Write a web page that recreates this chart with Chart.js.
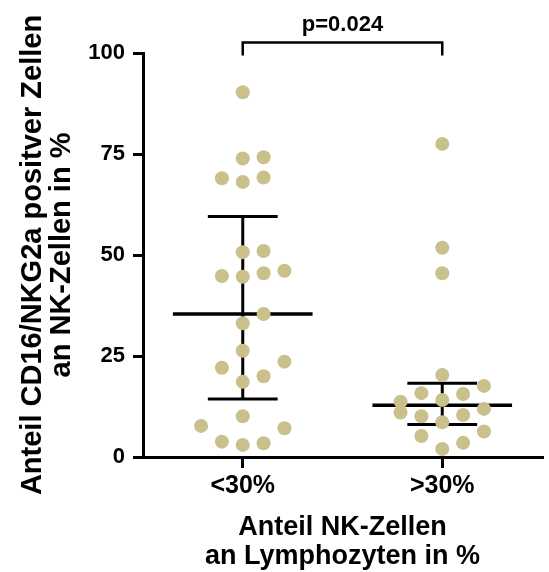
<!DOCTYPE html>
<html>
<head>
<meta charset="utf-8">
<script src="https://cdn.jsdelivr.net/npm/chart.js@4.4.0/dist/chart.umd.min.js"></script>
<style>
  html, body { margin: 0; padding: 0; background: #fff; }
  #wrap { width: 549px; height: 572px; }
</style>
</head>
<body>
<div id="wrap"><canvas id="myChart" width="549" height="572"></canvas></div>
<script>
const categories = ['<30%', '>30%']

// one value per patient, % CD16/NKG2a positive NK cells
const lowGroup = [90.3, 73.9, 68.1, 50.7, 44.6, 33.1, 26.3, 18.6, 10.1, 3.0,
    74.2, 69.2, 51.0, 45.5, 35.4, 20.0, 3.4, 69.0, 44.8, 22.1, 3.8, 23.6, 46.1, 7.1, 7.7]
const highGroup = [77.5, 51.8, 45.5, 20.3, 14.1, 8.6, 2.0, 15.6, 10.4, 3.5,
    15.8, 10.1, 5.2, 17.6, 11.9, 6.3, 11.0, 13.7]

const yTicks = [0, 25, 50, 75, 100]
const pValueLabel = 'p=0.024'
const yTitle = ['Anteil CD16/NKG2a positver Zellen', 'an NK-Zellen in %']
const xTitle = ['Anteil NK-Zellen', 'an Lymphozyten in %']

const family = '"Liberation Sans", Arial, sans-serif'
const dotColor = '#c9c08c'
const slotWidth = 0.1045   // horizontal step between dots in a row (x units)
const minSpacing = 4.4     // vertical distance (y units) below which dots collide
const slotOrder = [0, 1, -1, 2, -2]

// quartiles the Prism way: position (n+1)p, linear interpolation
const quantile = (values, p) => {
    const s = [...values].sort((a, b) => a - b)
    const pos = (s.length + 1) * p - 1
    const lo = Math.floor(pos)
    if (lo < 0) return s[0]
    if (lo >= s.length - 1) return s[s.length - 1]
    return s[lo] + (pos - lo) * (s[lo + 1] - s[lo])
}

// simple beeswarm: take the first free slot, otherwise the one with most room
const swarm = (values, center) => {
    const placed = []
    return values.map(v => {
        let best = 0, bestGap = -1
        for (const slot of slotOrder) {
            const gap = Math.min(Infinity, ...placed.filter(p => p.slot === slot).map(p => Math.abs(p.v - v)))
            if (gap >= minSpacing) { best = slot; break }
            if (gap > bestGap) { bestGap = gap; best = slot }
        }
        placed.push({ slot: best, v })
        return { x: center + best * slotWidth, y: v }
    })
}

const segment = (points, width, extra = {}) => Object.assign({
    type: 'line',
    data: points.map(([x, y]) => ({ x, y })),
    borderColor: '#000',
    borderWidth: width,
    borderCapStyle: 'butt',
    borderJoinStyle: 'miter',
    pointRadius: 0,
    fill: false,
    order: 1
}, extra)

const datasets = []
;[lowGroup, highGroup].forEach((values, i) => {
    const c = i + 1
    const med = quantile(values, 0.5)
    const q1 = quantile(values, 0.25)
    const q3 = quantile(values, 0.75)
    datasets.push(segment([[c - 0.35, med], [c + 0.35, med]], 3.5))
    datasets.push(segment([[c - 0.175, q1], [c + 0.175, q1]], 3))
    datasets.push(segment([[c - 0.175, q3], [c + 0.175, q3]], 3))
    datasets.push(segment([[c, q1], [c, q3]], 3))
    datasets.push({
        type: 'scatter',
        label: categories[i],
        data: swarm(values, c),
        backgroundColor: dotColor,
        borderWidth: 0,
        pointRadius: 7,
        pointHoverRadius: 7,
        order: 0
    })
})

// significance bracket between the two groups, above the plot area
const bracketTop = 102.6
const bracketFoot = 99.4
datasets.push(segment([[1, bracketFoot], [1, bracketTop], [2, bracketTop], [2, bracketFoot]], 2.5, { clip: false }))

const pValuePlugin = {
    id: 'pValue',
    afterDraw(chart) {
        const { ctx, scales: { x, y } } = chart
        ctx.save()
        ctx.font = `bold 22px ${family}`
        ctx.fillStyle = '#000'
        ctx.textAlign = 'center'
        ctx.textBaseline = 'alphabetic'
        ctx.fillText(pValueLabel, x.getPixelForValue(1.5), y.getPixelForValue(bracketTop) - 11.5)
        ctx.restore()
    }
}

const ctx = document.getElementById('myChart')

new Chart(ctx, {
    type: 'scatter',
    data: { datasets },
    options: {
        responsive: false,
        animation: false,
        devicePixelRatio: 1,
        layout: { padding: { top: 53, right: 4, left: 0, bottom: 0 } },
        plugins: { legend: { display: false }, tooltip: { enabled: false } },
        scales: {
            x: {
                type: 'linear',
                min: 0.5,
                max: 2.5,
                afterBuildTicks: s => { s.ticks = categories.map((_, i) => ({ value: i + 1 })) },
                afterFit: s => { s.height = 115 },
                ticks: {
                    callback: v => categories[v - 1],
                    font: { family, size: 25, weight: 'bold' },
                    color: '#000',
                    padding: 3,
                    maxRotation: 0
                },
                grid: { drawOnChartArea: false, tickLength: 11, lineWidth: 3, color: '#000' },
                border: { width: 3, color: '#000' },
                title: {
                    display: true,
                    text: xTitle,
                    color: '#000',
                    font: { family, size: 27, weight: 'bold', lineHeight: '29px' },
                    padding: { top: 0, bottom: 0.5 }
                }
            },
            y: {
                min: 0,
                max: 100,
                afterBuildTicks: s => { s.ticks = yTicks.map(value => ({ value })) },
                afterFit: s => { s.width = 143 },
                ticks: {
                    font: { family, size: 22, weight: 'bold' },
                    color: '#000',
                    padding: 8
                },
                grid: { drawOnChartArea: false, tickLength: 10, lineWidth: 3, color: '#000' },
                border: { width: 3, color: '#000' },
                title: {
                    display: true,
                    text: yTitle,
                    color: '#000',
                    font: { family, size: 29, weight: 'bold', lineHeight: '29px' },
                    padding: { top: 18.5, bottom: 0 }
                }
            }
        }
    },
    plugins: [pValuePlugin]
})
</script>
</body>
</html>
